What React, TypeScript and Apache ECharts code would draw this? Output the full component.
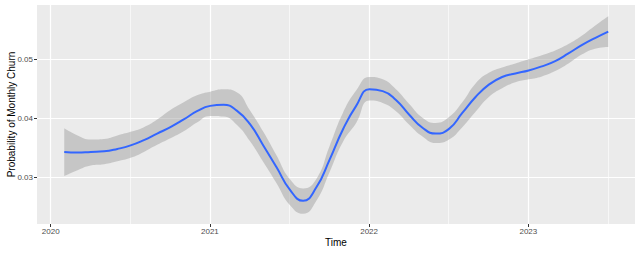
import React, { useEffect, useRef } from 'react';
import * as echarts from 'echarts';

const months = [
  '2020-02', '2020-03', '2020-04', '2020-05', '2020-06', '2020-07', '2020-08', '2020-09', '2020-10', '2020-11', '2020-12',
  '2021-01', '2021-02', '2021-03', '2021-04', '2021-05', '2021-06', '2021-07', '2021-08', '2021-09', '2021-10', '2021-11', '2021-12',
  '2022-01', '2022-02', '2022-03', '2022-04', '2022-05', '2022-06', '2022-07', '2022-08', '2022-09', '2022-10', '2022-11', '2022-12',
  '2023-01', '2023-02', '2023-03', '2023-04', '2023-05', '2023-06', '2023-07',
];

const fit = [
  0.0343, 0.0342, 0.0343, 0.0344, 0.0348, 0.0354, 0.0363, 0.0374, 0.0385, 0.0398, 0.0412,
  0.0421, 0.0423, 0.0413, 0.0390, 0.0354, 0.0317, 0.0279, 0.0260, 0.0283, 0.0330, 0.0381, 0.0421,
  0.0449, 0.0446, 0.0431, 0.0406, 0.0384, 0.0374, 0.0382, 0.0409, 0.0436, 0.0457, 0.0470, 0.0476,
  0.0481, 0.0488, 0.0497, 0.0510, 0.0524, 0.0536, 0.0547,
];

const lower = [
  0.0302, 0.0312, 0.0320, 0.0322, 0.0327, 0.0333, 0.0343, 0.0355, 0.0366, 0.0378, 0.0393,
  0.0404, 0.0403, 0.0389, 0.0361, 0.0326, 0.0290, 0.0253, 0.0238, 0.0260, 0.0309, 0.0360, 0.0392,
  0.0430, 0.0426, 0.0412, 0.0389, 0.0369, 0.0358, 0.0364, 0.0385, 0.0411, 0.0436, 0.0451, 0.0461,
  0.0466, 0.0471, 0.0480, 0.0493, 0.0508, 0.0518, 0.0521,
];

const upper = [
  0.0383, 0.0371, 0.0364, 0.0365, 0.0371, 0.0377, 0.0385, 0.0398, 0.0414, 0.0427, 0.0439,
  0.0445, 0.0449, 0.0444, 0.0413, 0.0377, 0.0337, 0.0297, 0.0281, 0.0297, 0.0353, 0.0409, 0.0447,
  0.0470, 0.0466, 0.0449, 0.0424, 0.0401, 0.0392, 0.0402, 0.0427, 0.0459, 0.0477, 0.0486, 0.0493,
  0.0500, 0.0507, 0.0515, 0.0526, 0.0540, 0.0557, 0.0573,
];

const xTicks = [2020, 2021, 2022, 2023];
const xMinor = [2020.5, 2021.5, 2022.5, 2023.5];
const yTicks = [0.03, 0.04, 0.05];
const yMinor = [0.025, 0.035, 0.045, 0.055];

function toYear(m: string): number {
  const [y, mo] = m.split('-').map(Number);
  return y + (mo - 1) / 12 + 0.002;
}

export default function App() {
  const ref = useRef<HTMLDivElement>(null);
  useEffect(() => {
    if (!ref.current) return;
    const chart = echarts.init(ref.current, null, { renderer: 'svg' });
    const xs = months.map(toYear);
    const font = 'Liberation Sans, Arial, sans-serif';
    chart.setOption({
      animation: false,
      textStyle: { fontFamily: font },
      grid: {
        left: 37, top: 5, width: 598, height: 219,
        outerBoundsMode: 'none',
        containLabel: false,
        show: true, backgroundColor: '#EBEBEB', borderWidth: 0,
      },
      xAxis: {
        type: 'value',
        min: 2019.914,
        max: 2023.670,
        axisLine: { show: false },
        axisTick: { show: true, customValues: xTicks, length: 3, lineStyle: { color: '#333333', width: 1 } },
        axisLabel: {
          customValues: xTicks, color: '#4D4D4D', fontSize: 8, margin: 3.5, fontFamily: font,
          formatter: (v: number) => String(Math.round(v)),
        },
        splitLine: { show: true, lineStyle: { color: '#FFFFFF', width: 1.2 } },
        name: 'Time',
        nameLocation: 'middle',
        nameGap: 13,
        nameMoveOverlap: false,
        nameTextStyle: { fontSize: 10, color: '#000000', fontFamily: font },
      },
      yAxis: {
        type: 'value',
        min: 0.02208,
        max: 0.0592,
        axisLine: { show: false },
        axisTick: { show: true, customValues: yTicks, length: 3, lineStyle: { color: '#333333', width: 1 } },
        axisLabel: {
          customValues: yTicks, color: '#4D4D4D', fontSize: 8, margin: 4, fontFamily: font,
          formatter: (v: number) => v.toFixed(2),
        },
        splitLine: { show: true, lineStyle: { color: '#FFFFFF', width: 1.2 } },
        name: 'Probability of Monthly Churn',
        nameLocation: 'middle',
        nameGap: 21,
        nameMoveOverlap: false,
        nameTextStyle: { fontSize: 10, color: '#000000', fontFamily: font },
      },
      series: [
        {
          name: 'lowerBase',
          type: 'line',
          stack: 'ci',
          stackStrategy: 'all',
          encode: { x: 1, y: 0 },
          data: xs.map((x, i) => [lower[i], x]),
          symbol: 'none',
          smooth: true,
          silent: true,
          lineStyle: { opacity: 0 },
          z: 2,
          markLine: {
            z: 1,
            silent: true,
            symbol: ['none', 'none'],
            label: { show: false },
            lineStyle: { color: '#FFFFFF', width: 0.6, type: 'solid' },
            data: [
              ...xMinor.map((v) => ({ xAxis: v })),
              ...yMinor.map((v) => ({ yAxis: v })),
            ],
          },
        },
        {
          name: 'band',
          type: 'line',
          stack: 'ci',
          stackStrategy: 'all',
          encode: { x: 1, y: 0 },
          data: xs.map((x, i) => [upper[i] - lower[i], x]),
          symbol: 'none',
          smooth: true,
          silent: true,
          lineStyle: { opacity: 0 },
          areaStyle: { color: '#999999', opacity: 0.45 },
          z: 2,
        },
        {
          name: 'fit',
          type: 'line',
          data: xs.map((x, i) => [x, fit[i]]),
          symbol: 'none',
          smooth: true,
          silent: true,
          lineStyle: { color: '#3366FF', width: 2 },
          z: 3,
        },
      ],
    });
    return () => chart.dispose();
  }, []);
  return (
    <div
      ref={ref}
      style={{ position: 'fixed', left: 0, top: 0, width: 640, height: 253, background: '#FFFFFF' }}
    />
  );
}
